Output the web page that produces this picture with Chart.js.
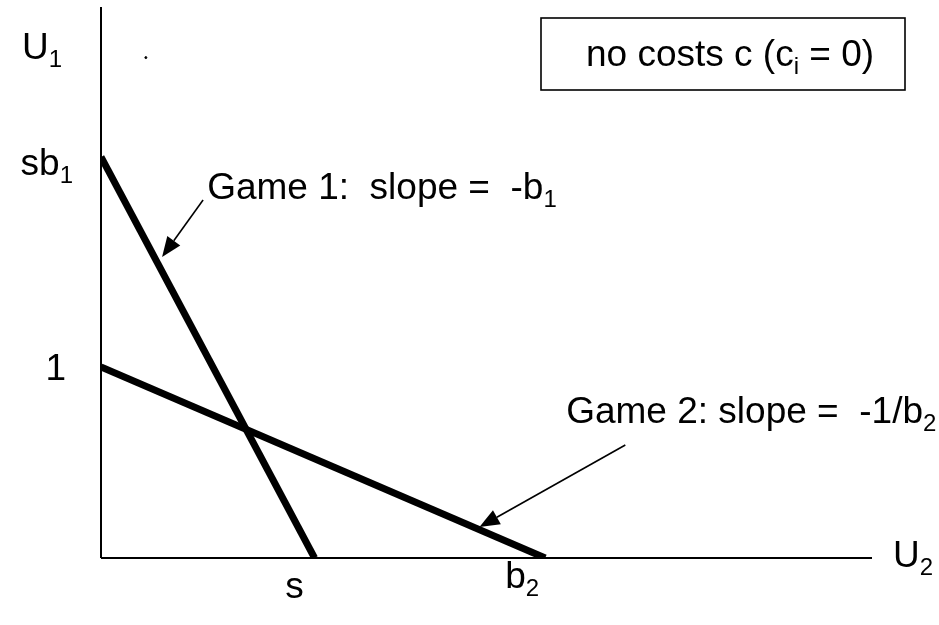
<!DOCTYPE html>
<html>
<head>
<meta charset="utf-8">
<script src="https://cdn.jsdelivr.net/npm/chart.js@4.4.1/dist/chart.umd.min.js"></script>
<style>
  html, body { margin: 0; padding: 0; background: #fff; }
  #wrap { width: 939px; height: 625px; }
</style>
</head>
<body>
<div id="wrap"><canvas id="gameChart"></canvas></div>
<script>
// values (s = 1 on the U2 axis)
const sVal = 1;
const b2Val = 2.08;
const sb1Val = 2.1;
const oneVal = 1;
const game1 = [{ x: 0, y: sb1Val }, { x: sVal, y: 0 }];
const game2 = [{ x: 0, y: oneVal }, { x: b2Val, y: 0 }];
const strayDot = [{ x: 0.21, y: 2.62 }];

// annotation anchors in data units
const arrows = [
	{ from: [0.478, 1.874], to: [0.286, 1.576] },
	{ from: [2.455, 0.592], to: [1.772, 0.162] },
];
const notes = [
	{ at: [0.497, 1.88], parts: [["Game 1:  slope =  -b", 0], ["1", 1]] },
	{ at: [2.178, 0.705], parts: [["Game 2: slope =  -1/b", 0], ["2", 1]] },
];

const FONT = '"Liberation Sans", Arial, sans-serif';
const BIG = 37;
const SMALL = 24;

function partsWidth(ctx, parts) {
	let w = 0;
	parts.forEach(([t, sub]) => {
		ctx.font = (sub ? SMALL : BIG) + "px " + FONT;
		w += ctx.measureText(t).width;
	});
	return w;
}

function drawParts(ctx, parts, x, y, align) {
	const w = partsWidth(ctx, parts);
	if (align === "right") x -= w;
	if (align === "center") x -= w / 2;
	ctx.textAlign = "left";
	ctx.textBaseline = "alphabetic";
	parts.forEach(([t, sub]) => {
		ctx.font = (sub ? SMALL : BIG) + "px " + FONT;
		ctx.fillText(t, x, sub ? y + 8 : y);
		x += ctx.measureText(t).width;
	});
}

function arrow(ctx, x1, y1, x2, y2) {
	const ang = Math.atan2(y2 - y1, x2 - x1);
	const len = 20, half = 8;
	const bx = x2 - len * Math.cos(ang), by = y2 - len * Math.sin(ang);
	ctx.lineWidth = 1.6;
	ctx.beginPath();
	ctx.moveTo(x1, y1);
	ctx.lineTo(bx, by);
	ctx.stroke();
	ctx.beginPath();
	ctx.moveTo(x2, y2);
	ctx.lineTo(bx + half * Math.sin(ang), by - half * Math.cos(ang));
	ctx.lineTo(bx - half * Math.sin(ang), by + half * Math.cos(ang));
	ctx.closePath();
	ctx.fill();
}

const decor = {
	id: "decor",
	beforeDatasetsDraw(chart) {
		const { ctx, chartArea, scales } = chart;
		const x0 = scales.x.getPixelForValue(0);
		const y0 = scales.y.getPixelForValue(0);
		ctx.save();
		ctx.strokeStyle = "#000";
		ctx.lineWidth = 2;
		ctx.beginPath();
		ctx.moveTo(x0, chartArea.top);
		ctx.lineTo(x0, y0);
		ctx.moveTo(x0, y0);
		ctx.lineTo(chartArea.right, y0);
		ctx.stroke();
		ctx.restore();
	},
	afterDraw(chart) {
		const { ctx, chartArea, scales } = chart;
		const px = v => scales.x.getPixelForValue(v);
		const py = v => scales.y.getPixelForValue(v);
		ctx.save();
		ctx.fillStyle = "#000";
		ctx.strokeStyle = "#000";

		// axis names
		drawParts(ctx, [["U", 0], ["1", 1]], 22, 59, "left");
		drawParts(ctx, [["U", 0], ["2", 1]], chartArea.right + 21, py(0) + 9, "left");

		// tick labels
		drawParts(ctx, [["sb", 0], ["1", 1]], px(0) - 28, py(sb1Val) + 18, "right");
		drawParts(ctx, [["1", 0]], px(0) - 35, py(oneVal) + 13, "right");
		drawParts(ctx, [["s", 0]], px(sVal) - 20, py(0) + 40, "center");
		drawParts(ctx, [["b", 0], ["2", 1]], px(b2Val) - 23, py(0) + 30, "center");

		// notes and arrows
		notes.forEach(n => drawParts(ctx, n.parts, px(n.at[0]), py(n.at[1]), "left"));
		arrows.forEach(a => arrow(ctx, px(a.from[0]), py(a.from[1]), px(a.to[0]), py(a.to[1])));

		// legend box
		ctx.lineWidth = 1.6;
		ctx.strokeRect(541, 18, 364, 72);
		drawParts(ctx, [["no costs c (c", 0], ["i", 1], [" = 0)", 0]], 730, 66, "center");
		ctx.restore();
	},
};

new Chart(document.getElementById("gameChart"), {
	type: "scatter",
	data: {
		datasets: [
			{ data: game1, showLine: true, borderColor: "#000", borderWidth: 7, pointRadius: 0, borderCapStyle: "butt" },
			{ data: game2, showLine: true, borderColor: "#000", borderWidth: 7, pointRadius: 0, borderCapStyle: "butt" },
			{ data: strayDot, pointRadius: 1, backgroundColor: "#000", borderColor: "#000" },
		],
	},
	options: {
		responsive: true,
		maintainAspectRatio: false,
		animation: false,
		layout: { padding: { left: 101, right: 67, top: 7, bottom: 67 } },
		plugins: {
			legend: { display: false },
			tooltip: { enabled: false },
		},
		scales: {
			x: { type: "linear", min: 0, max: 3.61, display: false },
			y: { type: "linear", min: 0, max: 2.885, display: false },
		},
	},
	plugins: [decor],
});
</script>
</body>
</html>
